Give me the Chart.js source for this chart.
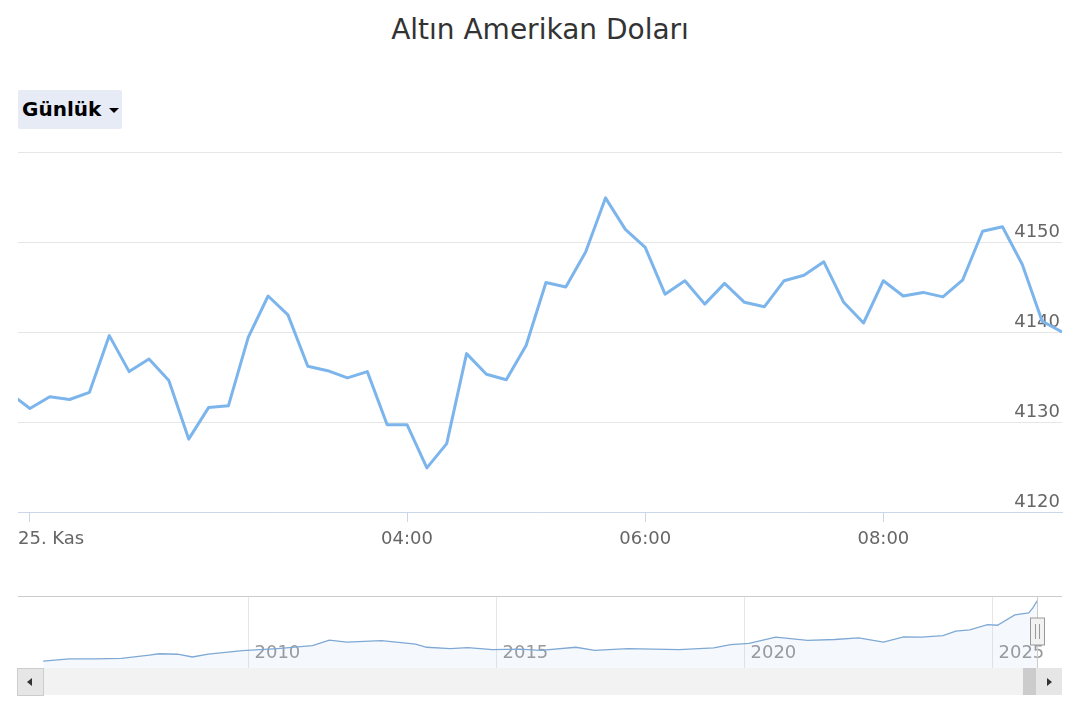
<!DOCTYPE html>
<html>
<head>
<meta charset="utf-8">
<script src="https://cdn.jsdelivr.net/npm/chart.js@4.4.1/dist/chart.umd.min.js"></script>
<style>
  body { margin: 0; background: #fff; font-family: "DejaVu Sans", sans-serif; }
  #page { position: relative; width: 1080px; height: 720px; overflow: hidden; }
  #title { position: absolute; left: 0; top: 11px; width: 1080px; text-align: center;
           font-size: 28px; line-height: 38px; color: #333; }
  #range { position: absolute; left: 18px; top: 90px; width: 104px; height: 39px;
           background: #e6ebf5; border-radius: 2px; font-weight: bold; font-size: 20px;
           line-height: 39px; color: #000; box-sizing: border-box; padding-left: 4px; }
  #range .caret { position: absolute; left: 109px; top: 18px; width: 0; height: 0;
           border-left: 5px solid transparent; border-right: 5px solid transparent;
           border-top: 5px solid #000; margin-left: -18px; }
  #mainWrap { position: absolute; left: 0; top: 0; width: 1080px; height: 560px; }
  #navWrap { position: absolute; left: 0; top: 580px; width: 1080px; height: 120px; }
  .sb { position: absolute; }
  #track { left: 18px; top: 668px; width: 1044px; height: 27px; background: #f2f2f2; }
  #btnL { left: 17px; top: 668px; width: 25px; height: 26px; background: #e6e6e6; border: 1px solid #cccccc; }
  #btnR { left: 1036px; top: 668px; width: 26px; height: 27px; background: #e6e6e6; }
  #thumb { left: 1023px; top: 668px; width: 13px; height: 27px; background: #cccccc; }
  .arrL { position: absolute; left: 9px; top: 9px; width: 0; height: 0;
          border-top: 4px solid transparent; border-bottom: 4px solid transparent; border-right: 5px solid #333; }
  .arrR { position: absolute; left: 11px; top: 10px; width: 0; height: 0;
          border-top: 4px solid transparent; border-bottom: 4px solid transparent; border-left: 5px solid #333; }
</style>
</head>
<body>
<div id="page">
  <div id="title">Altın Amerikan Doları</div>
  <div id="range">Günlük<span class="caret"></span></div>
  <div id="mainWrap"><canvas id="mainChart" width="1080" height="560"></canvas></div>
  <div id="navWrap"><canvas id="navChart" width="1080" height="120"></canvas></div>
  <div class="sb" id="track"></div>
  <div class="sb" id="thumb"></div>
  <div class="sb" id="btnL"><span class="arrL"></span></div>
  <div class="sb" id="btnR"><span class="arrR"></span></div>
</div>
<script>
// intraday prices, 25 Nov (first value is the last point before midnight)
const prices = [4133.2,
  4131.5, 4132.8, 4132.5, 4133.3, 4139.6, 4135.6, 4137.0, 4134.6, 4128.1, 4131.6,
  4131.8, 4139.4, 4144.0, 4141.9, 4136.2, 4135.7, 4134.9, 4135.6, 4129.7, 4129.7,
  4124.9, 4127.6, 4137.6, 4135.3, 4134.7, 4138.5, 4145.5, 4145.0, 4148.9, 4154.9,
  4151.4, 4149.4, 4144.2, 4145.7, 4143.1, 4145.4, 4143.3, 4142.8, 4145.7, 4146.3,
  4147.8, 4143.3, 4141.0, 4145.7, 4144.0, 4144.4, 4143.9, 4145.8, 4151.2, 4151.7,
  4147.5, 4141.2, 4140.0];
const xTickIndex = [0, 19, 31, 43];
const xTickLabels = ['25. Kas', '04:00', '06:00', '08:00'];
const yTicks = [4120, 4130, 4140, 4150, 4160];

// navigator: long-term history
const navYears = [2005.86, 2006.39, 2006.9, 2007.44, 2008.0, 2008.2, 2008.57, 2008.87, 2009.19, 2009.88,
  2010.58, 2011.29, 2011.63, 2011.98, 2012.68, 2013.37, 2013.59, 2014.07, 2014.42, 2014.92,
  2015.47, 2015.89, 2016.6, 2016.98, 2017.65, 2018.68, 2019.38, 2019.72, 2020.09, 2020.63,
  2021.27, 2021.82, 2022.3, 2022.8, 2023.21, 2023.57, 2024.0, 2024.26, 2024.54, 2024.9,
  2025.1, 2025.45, 2025.73, 2025.81, 2025.9];
const navValues = [430, 560, 560, 600, 800, 880, 850, 680, 860, 1070,
  1200, 1380, 1720, 1600, 1690, 1480, 1280, 1200, 1260, 1140,
  1160, 1090, 1280, 1090, 1200, 1130, 1240, 1440, 1520, 1900,
  1700, 1760, 1860, 1600, 1920, 1900, 2000, 2280, 2350, 2680,
  2640, 3280, 3400, 3700, 4140];
const navTickYears = [2010, 2015, 2020, 2025];

const FONT = '"DejaVu Sans", sans-serif';

// x labels like highcharts: centered, kept inside the plot
const xLabelPlugin = {
  id: 'xLabels',
  afterDraw(chart) {
    const ctx = chart.ctx;
    const xs = chart.scales.x;
    ctx.save();
    ctx.font = '18px ' + FONT;
    ctx.fillStyle = '#666666';
    ctx.textBaseline = 'middle';
    ctx.textAlign = 'left';
    xTickIndex.forEach((idx, i) => {
      const px = xs.getPixelForValue(idx);
      const w = ctx.measureText(xTickLabels[i]).width;
      const left = Math.max(chart.chartArea.left, px - w / 2);
      ctx.fillText(xTickLabels[i], left, chart.chartArea.bottom + 27);
    });
    ctx.restore();
  }
};

new Chart(document.getElementById('mainChart'), {
  type: 'line',
  data: {
    datasets: [{
      data: prices.map((v, i) => ({ x: i - 1, y: v })),
      borderColor: '#7cb5ec',
      borderWidth: 3,
      pointRadius: 0,
      tension: 0,
      borderJoinStyle: 'round',
      fill: false
    }]
  },
  options: {
    responsive: false,
    animation: false,
    layout: { padding: { top: 152, left: 18, right: 18, bottom: 38 } },
    plugins: { legend: { display: false }, tooltip: { enabled: false } },
    scales: {
      x: {
        type: 'linear',
        min: -0.6,
        max: 52,
        afterBuildTicks: s => { s.ticks = xTickIndex.map(v => ({ value: v })); },
        afterFit: s => { s.height = 10; },
        ticks: { display: false },
        grid: { drawOnChartArea: false, drawTicks: true, tickLength: 10, tickColor: '#ccd6eb' },
        border: { color: '#ccd6eb', width: 1 }
      },
      y: {
        position: 'right',
        min: 4120,
        max: 4160,
        afterBuildTicks: s => { s.ticks = yTicks.map(v => ({ value: v })); },
        afterFit: s => { s.width = 0; },
        ticks: {
          mirror: true,
          padding: -2,
          labelOffset: -10,
          color: '#666666',
          font: { family: FONT, size: 18 },
          callback: v => (v === 4160 ? '' : String(v))
        },
        grid: { color: '#e6e6e6', drawTicks: false },
        border: { display: false }
      }
    }
  },
  plugins: [xLabelPlugin]
});

// navigator decorations
const navPlugin = {
  id: 'navDeco',
  beforeDatasetsDraw(chart) {
    const ctx = chart.ctx;
    const xs = chart.scales.x;
    ctx.save();
    ctx.font = '18px ' + FONT;
    ctx.fillStyle = '#999999';
    ctx.textBaseline = 'middle';
    ctx.textAlign = 'left';
    navTickYears.forEach(yr => {
      ctx.fillText(String(yr), xs.getPixelForValue(yr) + 6, chart.chartArea.top + 57);
    });
    ctx.restore();
  },
  afterDatasetsDraw(chart) {
    const ctx = chart.ctx;
    const a = chart.chartArea;
    const xs = chart.scales.x;
    const hx = Math.round(xs.getPixelForValue(navYears[navYears.length - 1])) + 0.5;
    ctx.save();
    ctx.strokeStyle = '#cccccc';
    ctx.lineWidth = 1;
    ctx.beginPath();
    ctx.moveTo(a.left, a.top + 0.5);
    ctx.lineTo(a.right, a.top + 0.5);
    ctx.moveTo(hx, a.top);
    ctx.lineTo(hx, a.bottom);
    ctx.stroke();
    // handle
    ctx.fillStyle = '#f2f2f2';
    ctx.strokeStyle = '#999999';
    ctx.fillRect(hx - 7, a.top + 22, 14, 27);
    ctx.strokeRect(hx - 7, a.top + 22, 14, 27);
    ctx.beginPath();
    ctx.moveTo(hx - 2, a.top + 28);
    ctx.lineTo(hx - 2, a.top + 43);
    ctx.moveTo(hx + 2, a.top + 28);
    ctx.lineTo(hx + 2, a.top + 43);
    ctx.stroke();
    ctx.restore();
  }
};

new Chart(document.getElementById('navChart'), {
  type: 'line',
  data: {
    datasets: [{
      data: navYears.map((yr, i) => ({ x: yr, y: navValues[i] })),
      borderColor: '#7fa9d4',
      borderWidth: 1.3,
      backgroundColor: 'rgba(124,181,236,0.08)',
      pointRadius: 0,
      tension: 0,
      fill: 'origin'
    }]
  },
  options: {
    responsive: false,
    animation: false,
    layout: { padding: { top: 16, left: 18, right: 18, bottom: 32 } },
    plugins: { legend: { display: false }, tooltip: { enabled: false } },
    scales: {
      x: {
        type: 'linear',
        min: 2005.353,
        max: 2026.401,
        afterBuildTicks: s => { s.ticks = navTickYears.map(v => ({ value: v })); },
        afterFit: s => { s.height = 0; },
        ticks: { display: false },
        grid: { color: '#e6e6e6', drawTicks: false },
        border: { display: false }
      },
      y: {
        display: false,
        min: 0,
        max: 4444
      }
    }
  },
  plugins: [navPlugin]
});
</script>
</body>
</html>
